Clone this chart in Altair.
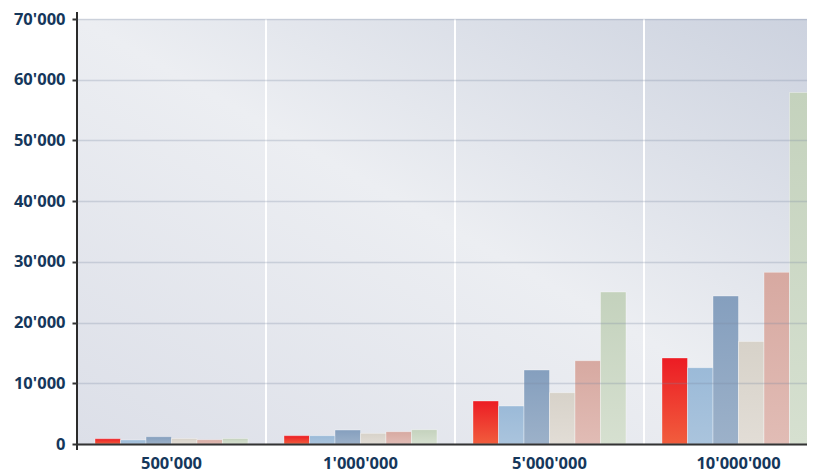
import altair as alt
import pandas as pd

groups = ["500'000", "1'000'000", "5'000'000", "10'000'000"]
series = ["Serie 1", "Serie 2", "Serie 3", "Serie 4", "Serie 5", "Serie 6"]
values = {
    "Serie 1": [870, 1370, 7080, 14170],
    "Serie 2": [660, 1370, 6260, 12570],
    "Serie 3": [1200, 2300, 12190, 24380],
    "Serie 4": [900, 1750, 8450, 16900],
    "Serie 5": [700, 2030, 13720, 28270],
    "Serie 6": [900, 2360, 25040, 57900],
}
y_ticks = [0, 10000, 20000, 30000, 40000, 50000, 60000, 70000]

# (top colour, bottom colour) for each series
grad_colors = {
    "Serie 1": ("#ec1c24", "#f15d3d"),
    "Serie 2": ("#9bbad8", "#aac4dd"),
    "Serie 3": ("#859fbe", "#9cb1c9"),
    "Serie 4": ("#d7d2c9", "#e2ddd6"),
    "Serie 5": ("#d7a9a1", "#e1bcb5"),
    "Serie 6": ("#c4d2bd", "#d6e0d0"),
}

rows = []
for s in series:
    for g, v in zip(groups, values[s]):
        rows.append({"group": g, "series": s, "value": v})
df = pd.DataFrame(rows)
gdf = pd.DataFrame({"group": groups})

W, H = 730, 425
FULL = 756  # 4 bands of 189px; the last one is cut by the page edge
FONT = "Open Sans"
LABEL = "#15375b"

xscale = alt.Scale(domain=groups, range=[0, FULL], paddingInner=0, paddingOuter=0)
yscale = alt.Scale(domain=[0, 70000], nice=False)

xaxis = alt.Axis(
    labelAngle=0, ticks=False, domain=True, domainColor="#333333",
    domainWidth=2, labelFont=FONT, labelFontSize=16.5,
    labelFontWeight="bold", labelColor=LABEL, labelPadding=11,
    grid=False, zindex=1,
)
yaxis = alt.Axis(
    values=y_ticks, domain=False, ticks=True, tickSize=5,
    tickColor="#333333", tickWidth=2, labelPadding=7,
    labelFont=FONT, labelFontSize=16.5, labelFontWeight="bold",
    labelColor=LABEL,
    labelExpr="replace(format(datum.value, ','), regexp(',', 'g'), \"'\")",
    grid=True, gridColor="#7a87a0", gridOpacity=0.28,
    gridWidth=1.5, zindex=1,
)

bg = alt.Chart(gdf).mark_rect(
    clip=True,
    color=alt.Gradient(
        gradient="linear",
        stops=[
            alt.GradientStop(color="#cbd1de", offset=0),
            alt.GradientStop(color="#eceef2", offset=0.5),
            alt.GradientStop(color="#dcdfe8", offset=1),
        ],
        x1=1, y1=0, x2=0, y2=1,
    ),
).encode(x=alt.value(0), x2=alt.value(FULL), y=alt.value(-1), y2=alt.value(H))

seps = alt.Chart(gdf).mark_rule(color="white", strokeWidth=2, clip=True).encode(
    x=alt.X("group:N", bandPosition=0, scale=xscale, sort=groups, title=None, axis=xaxis),
    y=alt.value(0),
    y2=alt.value(H),
)

bar_layers = []
for s in series:
    top, bot = grad_colors[s]
    bar_layers.append(
        alt.Chart(df).transform_filter(alt.datum.series == s).mark_bar(
            clip=True,
            stroke="white",
            strokeOpacity=0.35,
            strokeWidth=1,
            color=alt.Gradient(
                gradient="linear",
                stops=[alt.GradientStop(color=top, offset=0),
                       alt.GradientStop(color=bot, offset=1)],
                x1=0, y1=0, x2=0, y2=1,
            ),
        ).encode(
            x=alt.X("group:N", scale=xscale, sort=groups, title=None, axis=xaxis),
            xOffset=alt.XOffset(
                "series:N",
                scale=alt.Scale(domain=series, paddingOuter=0.706, paddingInner=0),
            ),
            y=alt.Y("value:Q", scale=yscale, title=None, axis=yaxis),
        )
    )

yline = alt.Chart(gdf).mark_rule(color="#2b2b2b", strokeWidth=2).encode(
    x=alt.value(0), y=alt.value(-7), y2=alt.value(H + 6)
)

chart = alt.layer(bg, seps, *bar_layers, yline).properties(
    width=W,
    height=H,
    autosize=alt.AutoSizeParams(type="none"),
    padding={"left": 69, "top": 11, "right": 0, "bottom": 40},
).configure_view(strokeWidth=0).configure(background="white")

chart.save("out.html", embed_options={"renderer": "svg", "actions": False})
